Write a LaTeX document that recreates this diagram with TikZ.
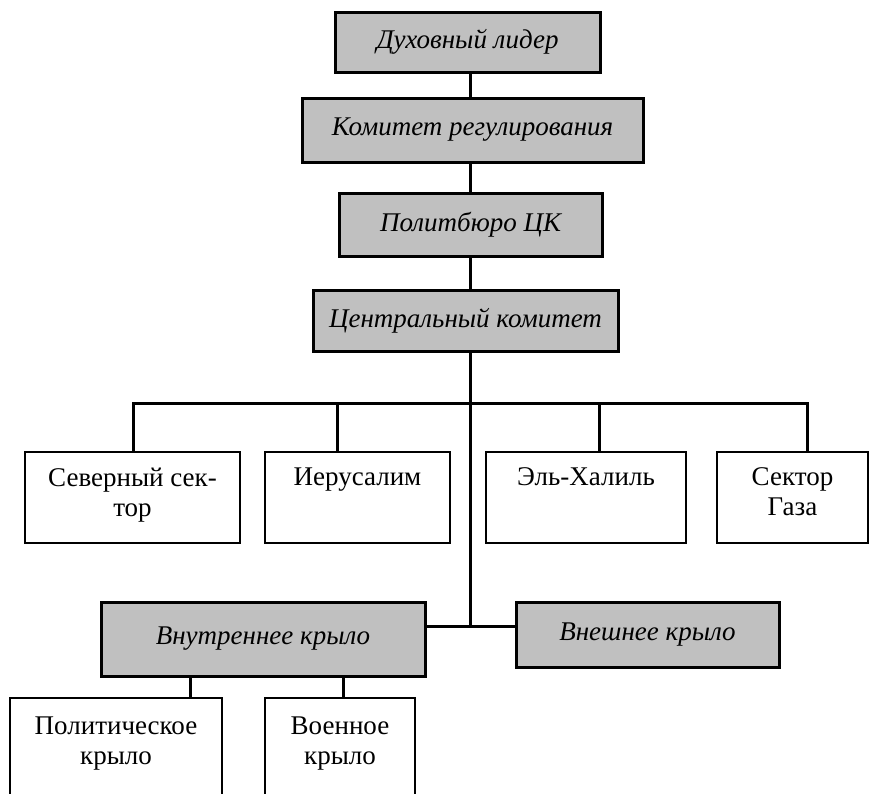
\documentclass[tikz,border=0pt]{standalone}
\usepackage{fontspec}
\setmainfont{Liberation Serif}
\usepackage{xcolor}
\usetikzlibrary{positioning}
\definecolor{boxgray}{RGB}{192,192,192}

\begin{document}
\begin{tikzpicture}[
  x=1pt, y=-1pt,
  organ/.style={draw, fill=boxgray, line width=3pt, inner sep=0pt, font=\itshape\fontsize{27}{30}\selectfont},
  unit/.style={draw, fill=white, line width=2.8pt, inner sep=0pt},
  utext/.style={font=\fontsize{27}{30}\selectfont, align=center, anchor=north, inner sep=0pt, yshift=-17pt},
  link/.style={line width=3pt}
]
  \clip (0,0) rectangle (869,793);
  \coordinate (bus) at (470,403);
  \coordinate (spine) at (470,626);

  % Leadership chain (top)
  \node[organ, minimum width=265pt, minimum height=60pt] (spirit) at (467.5,42) {Духовный лидер};
  \node[organ, minimum width=341pt, minimum height=64pt] (regul) at (472.5,130) {Комитет регулирования};
  \node[organ, minimum width=263pt, minimum height=63pt] (polit) at (470.5,224.5) {Политбюро ЦК};
  \node[organ, minimum width=305pt, minimum height=61pt] (central) at (465.5,320.5) {Центральный комитет};

  % Regional sectors (middle row)
  \node[unit, minimum width=215pt, minimum height=91pt, label={[utext]north:Северный сек-\\тор}] (north) at (132.5,497.5) {};
  \node[unit, minimum width=185pt, minimum height=91pt, label={[utext]north:Иерусалим}] (jerus) at (357.5,497.5) {};
  \node[unit, minimum width=200pt, minimum height=91pt, label={[utext]north:Эль-Халиль}] (hebron) at (586,497.5) {};
  \node[unit, minimum width=151pt, minimum height=91pt, label={[utext]north:Сектор\\Газа}] (gaza) at (792.5,497.5) {};

  % Wings (bottom)
  \node[organ, minimum width=324pt, minimum height=74pt] (inner) at (263,639) {Внутреннее крыло};
  \node[organ, minimum width=263pt, minimum height=65pt] (outer) at (647.5,634.5) {Внешнее крыло};
  \node[unit, minimum width=212pt, minimum height=130pt, label={[utext, yshift=-3pt]north:Политическое\\крыло}] (pwing) at (116,763) {};
  \node[unit, minimum width=150pt, minimum height=130pt, label={[utext, yshift=-3pt]north:Военное\\крыло}] (mwing) at (340,763) {};

  % Vertical chain
  \draw[link] (spirit.south -| spine) -- (regul.north -| spine);
  \draw[link] (regul.south -| spine) -- (polit.north -| spine);
  \draw[link] (polit.south -| spine) -- (central.north -| spine);
  \draw[link] (central.south -| spine) -- (spine);
  \draw[link] (inner.east |- spine) -- (outer.west |- spine);

  % Bus to the sectors
  \foreach \n/\dx in {north/0.5, jerus/-20.5, hebron/13, gaza/14.5}
    \draw[link] ([xshift=\dx pt]\n.north) |- (bus);

  % Inner wing branches
  \draw[link] ([xshift=74pt]pwing.north) -- ([xshift=74pt]pwing.north |- inner.south);
  \draw[link] ([xshift=3pt]mwing.north) -- ([xshift=3pt]mwing.north |- inner.south);
\end{tikzpicture}
\end{document}
